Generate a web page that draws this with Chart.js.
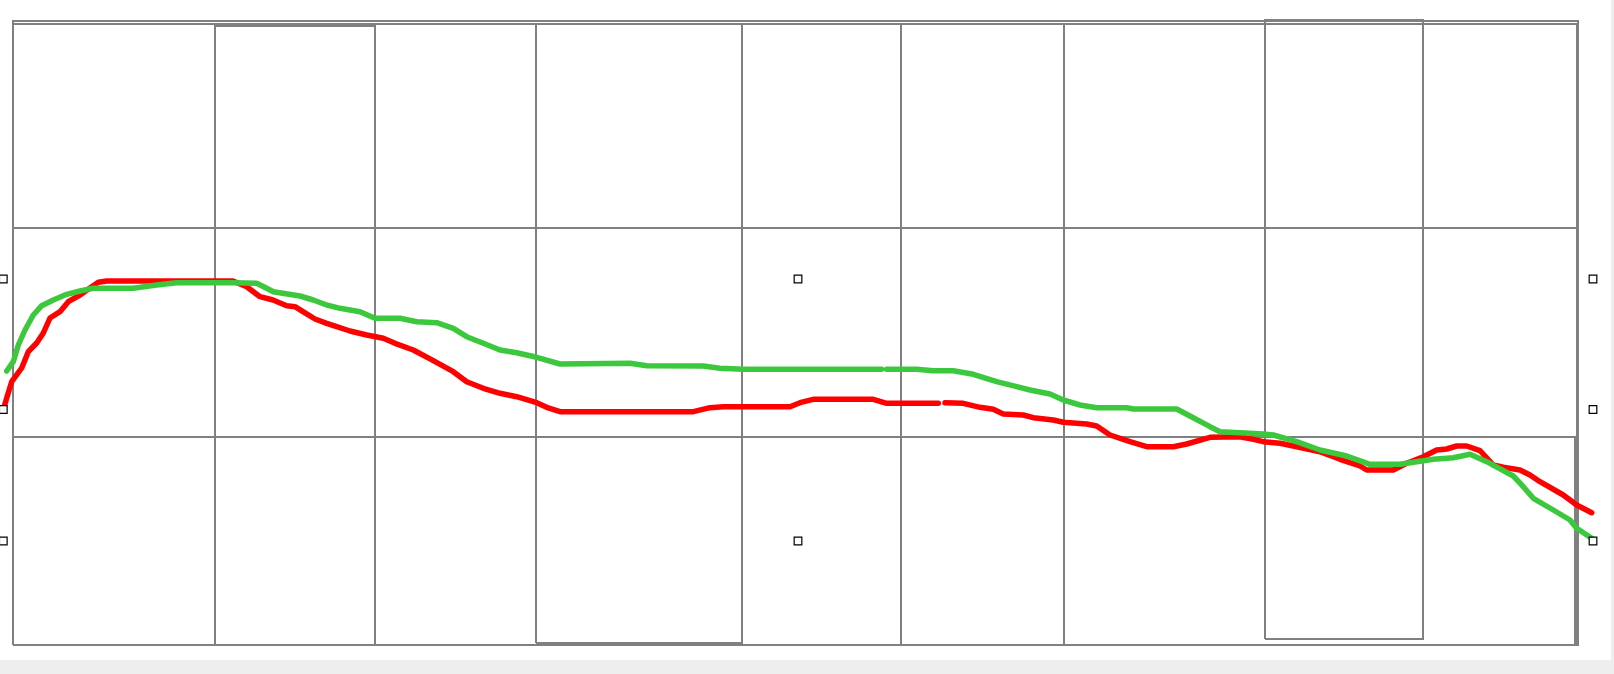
<!DOCTYPE html>
<html>
<head>
<meta charset="utf-8">
<script src="https://cdn.jsdelivr.net/npm/chart.js@4.4.1/dist/chart.umd.min.js"></script>
<style>
    body { margin: 0; background: #eeeeee; }
    #contenedor { position: absolute; left: 0; top: 0; width: 1611px; height: 660px; background: #ffffff; }
</style>
</head>
<body>
<div id="contenedor"><canvas id="grafico"></canvas></div>
<script>
// Curva roja
const rojoX = [0.33, 0.67, 1.17, 2.17, 2.83, 3.67, 4.33, 5.0, 6.0, 6.83, 8.0, 9.0, 9.83, 10.67, 23.3, 24.67, 26.0, 27.3, 28.67, 29.5,
    30.3, 31.5, 32.67, 33.67, 35.0, 36.67, 38.33, 39.5, 41.33, 43.33, 45.33, 46.67, 48.33, 50.0, 51.67, 53.67, 54.67, 56.0, 69.33, 71.0,
    72.33, 79.0, 80.0, 81.33, 87.33, 88.67, 93.83, 94.2, 94.5, 96.33, 98.0, 99.33, 100.33, 102.33, 103.33, 105.33, 106.33, 108.67, 109.67, 111.0,
    113.0, 114.67, 117.33, 118.67, 121.0, 124.0, 125.33, 126.33, 128.0, 129.33, 132.0, 134.0, 136.0, 136.67, 139.33, 140.67, 142.33, 143.67, 144.67, 145.67,
    146.67, 148.0, 149.33, 150.33, 152.0, 153.0, 154.0, 156.33, 157.67, 159.17];
const rojoY = [25.0, 26.2, 27.83, 29.2, 30.83, 31.7, 32.7, 34.2, 34.83, 35.83, 36.5, 37.2, 37.77, 37.9, 37.9, 37.33, 36.33, 36.0, 35.43, 35.33,
    34.83, 34.1, 33.67, 33.33, 32.9, 32.5, 32.17, 31.67, 31.0, 29.93, 28.83, 27.83, 27.17, 26.67, 26.33, 25.73, 25.27, 24.83, 24.83, 25.23,
    25.33, 25.33, 25.73, 26.07, 26.07, 25.67, 25.67, null, 25.73, 25.67, 25.27, 25.07, 24.6, 24.5, 24.23, 24.0, 23.77, 23.6, 23.4, 22.5,
    21.83, 21.33, 21.33, 21.6, 22.27, 22.33, 22.07, 21.83, 21.67, 21.4, 20.83, 20.07, 19.4, 19.0, 19.0, 19.67, 20.33, 21.0, 21.1, 21.4,
    21.4, 20.93, 19.5, 19.27, 19.0, 18.5, 17.83, 16.5, 15.5, 14.73];

// Curva verde
const verdeX = [0.67, 1.33, 1.83, 2.5, 3.33, 4.17, 5.33, 6.67, 8.0, 9.33, 13.33, 15.67, 17.67, 23.33, 25.67, 26.67, 27.33, 30.0, 31.33, 32.67,
    34.0, 36.0, 37.5, 40.0, 41.67, 43.67, 45.33, 46.67, 48.33, 50.0, 51.67, 53.67, 56.0, 63.0, 64.67, 70.33, 72.0, 74.33, 88.17, 88.4,
    88.67, 91.67, 93.33, 95.33, 97.33, 99.67, 101.67, 103.0, 105.0, 106.33, 108.0, 109.67, 112.67, 113.33, 117.67, 119.0, 121.0, 122.0, 124.0, 126.33,
    127.33, 129.67, 132.0, 134.67, 137.0, 140.0, 141.67, 143.33, 145.33, 147.0, 148.67, 151.33, 152.33, 153.33, 155.33, 157.0, 157.67, 159.17];
const verdeY = [28.9, 29.83, 31.5, 33.0, 34.5, 35.43, 36.0, 36.57, 36.9, 37.17, 37.17, 37.5, 37.73, 37.73, 37.67, 37.17, 36.83, 36.4, 36.0, 35.5,
    35.17, 34.83, 34.17, 34.17, 33.83, 33.73, 33.17, 32.33, 31.67, 31.0, 30.73, 30.27, 29.6, 29.67, 29.43, 29.4, 29.17, 29.07, 29.07, null,
    29.07, 29.07, 28.93, 28.93, 28.57, 27.83, 27.33, 27.0, 26.6, 26.0, 25.5, 25.23, 25.23, 25.1, 25.1, 24.4, 23.33, 22.83, 22.73, 22.6,
    22.5, 21.83, 21.0, 20.4, 19.57, 19.57, 19.83, 20.07, 20.23, 20.57, 19.83, 18.4, 17.33, 16.17, 15.0, 14.0, 13.17, 12.17];

// Rectangulos de la cuadricula: [x1, y1, x2, y2]
const rectangulos = [
    [1.3, 1.5, 157.8, 63.9],
    [1.3, 1.5, 157.7, 63.6],
    [21.5, 1.5, 37.5, 63.4],
    [53.6, 1.7, 74.2, 63.6],
    [126.5, 2.1, 142.3, 64.0],
    [1.3, 1.5, 157.5, 22.3]
];

// Lineas sueltas: [x1, y1, x2, y2]
const lineas = [
    [1.3, 43.2, 157.8, 43.2],
    [90.1, 1.5, 90.1, 63.6],
    [106.4, 1.5, 106.4, 63.6]
];

// Marcas de seleccion (cuadritos negros)
const marcasX = [0.33, 79.8, 159.3, 0.33, 159.3, 0.33, 79.8, 159.3];
const marcasY = [38.1, 38.1, 38.1, 25.05, 25.05, 11.9, 11.9, 11.9];

function unirPuntos(xs, ys) {
    return xs.map((x, i) => ({ x: x, y: ys[i] }));
}

const datasets = [];

// Cuadricula gris
rectangulos.forEach(r => {
    datasets.push({
        data: [{ x: r[0], y: r[1] }, { x: r[2], y: r[1] }, { x: r[2], y: r[3] }, { x: r[0], y: r[3] }, { x: r[0], y: r[1] }],
        showLine: true,
        borderColor: 'rgb(128, 128, 128)',
        borderWidth: 2,
        pointRadius: 0,
        fill: false,
        clip: false,
        order: 5
    });
});
lineas.forEach(l => {
    datasets.push({
        data: [{ x: l[0], y: l[1] }, { x: l[2], y: l[3] }],
        showLine: true,
        borderColor: 'rgb(128, 128, 128)',
        borderWidth: 2,
        pointRadius: 0,
        clip: false,
        order: 5
    });
});

// Curvas
datasets.push({
    label: 'Rojo',
    data: unirPuntos(rojoX, rojoY),
    showLine: true,
    borderColor: 'rgb(255, 0, 0)',
    borderWidth: 5.5,
    borderCapStyle: 'round',
    borderJoinStyle: 'round',
    pointRadius: 0,
    spanGaps: false,
    clip: false,
    order: 3
});
datasets.push({
    label: 'Verde',
    data: unirPuntos(verdeX, verdeY),
    showLine: true,
    borderColor: 'rgb(60, 200, 60)',
    borderWidth: 5.5,
    borderCapStyle: 'round',
    borderJoinStyle: 'round',
    pointRadius: 0,
    spanGaps: false,
    clip: false,
    order: 2
});

// Marcas
datasets.push({
    data: unirPuntos(marcasX, marcasY),
    showLine: false,
    pointStyle: 'rect',
    pointRadius: 5.4,
    pointBackgroundColor: '#ffffff',
    pointBorderColor: '#000000',
    pointBorderWidth: 1.2,
    clip: false,
    order: 1
});

const ctx = document.getElementById('grafico').getContext('2d');
const grafico = new Chart(ctx, {
    type: 'scatter',
    data: { datasets: datasets },
    options: {
        responsive: true,
        maintainAspectRatio: false,
        animation: false,
        layout: { padding: 0, autoPadding: false },
        plugins: {
            legend: { display: false },
            tooltip: { enabled: false }
        },
        scales: {
            x: { type: 'linear', display: false, min: 0, max: 161.1 },
            y: { type: 'linear', display: false, min: 0, max: 66 }
        }
    }
});
</script>
</body>
</html>
